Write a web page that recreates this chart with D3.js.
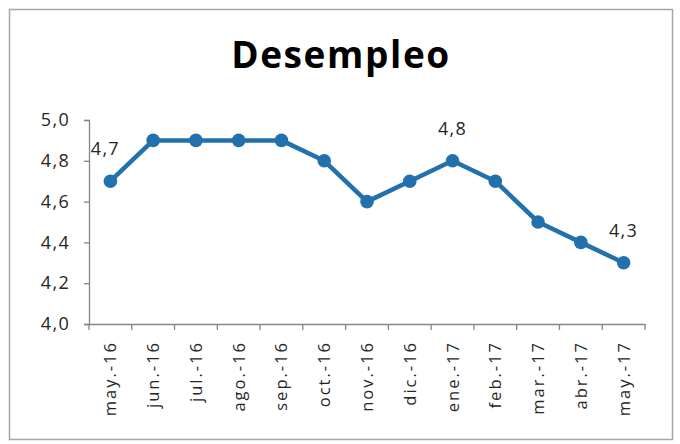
<!DOCTYPE html>
<html><head><meta charset="utf-8">
<script src="https://cdn.jsdelivr.net/npm/d3@7"></script>
<style>body{margin:0;background:#fff}svg{display:block}text{font-family:"Open Sans",sans-serif}</style>
</head><body><svg id="c" width="680" height="444"></svg>
<script>
const categories=["may.-16","jun.-16","jul.-16","ago.-16","sep.-16","oct.-16","nov.-16","dic.-16","ene.-17","feb.-17","mar.-17","abr.-17","may.-17"];
const values=[4.7,4.9,4.9,4.9,4.9,4.8,4.6,4.7,4.8,4.7,4.5,4.4,4.3];
const yTicks=[4.0,4.2,4.4,4.6,4.8,5.0];
const labeled=["may.-16","ene.-17","may.-17"];
const title="Desempleo";

const svg=d3.select("#c");
svg.append("rect").attr("x",9.5).attr("y",9.5).attr("width",663).attr("height",430).attr("fill","#fff").attr("stroke","#a6a6a6").attr("stroke-width",1.5);
svg.append("text").attr("x",341).attr("y",68).attr("text-anchor","middle").attr("font-size",37).attr("letter-spacing",1.6).attr("font-weight","bold").attr("fill","#000").text(title);

const x=d3.scaleBand().domain(categories).range([89,645]);
const y=d3.scaleLinear().domain([4,5]).range([324,120]);
const fmt=v=>d3.format(".1f")(v).replace(".",",");

const ya=svg.append("g").attr("transform","translate(89,0)").call(d3.axisLeft(y).tickValues(yTicks).tickFormat(fmt).tickSize(5).tickPadding(14));
const xa=svg.append("g").attr("transform","translate(0,324)").call(d3.axisBottom(x).tickSize(0).tickFormat(""));
[ya,xa].forEach(a=>{a.selectAll("path,line").attr("stroke","#868686").attr("stroke-width",1.3);a.selectAll("text").attr("font-size",18).attr("letter-spacing",1.3).attr("fill","#262626").attr("font-family","'Open Sans',sans-serif");});
const bounds=categories.map(c=>x(c)).concat([x(categories[categories.length-1])+x.bandwidth()]);
svg.append("g").selectAll("line").data(bounds).join("line").attr("x1",d=>d).attr("x2",d=>d).attr("y1",324).attr("y2",330).attr("stroke","#868686").attr("stroke-width",1.3);
svg.append("g").selectAll("text").data(categories).join("text")
 .attr("transform",d=>`translate(${x(d)+x.bandwidth()/2+6},341) rotate(-90)`)
 .attr("text-anchor","end").attr("font-size",16.5).attr("letter-spacing",2).attr("fill","#262626").text(d=>d);

const pts=categories.map((c,i)=>({c,v:values[i]}));
svg.append("path").datum(pts).attr("fill","none").attr("stroke","#2271ac").attr("stroke-width",4.5).attr("stroke-linejoin","round")
 .attr("d",d3.line().x(d=>x(d.c)+x.bandwidth()/2).y(d=>y(d.v)));
svg.append("g").selectAll("circle").data(pts).join("circle").attr("cx",d=>x(d.c)+x.bandwidth()/2).attr("cy",d=>y(d.v)).attr("r",6.8).attr("fill","#2271ac");
svg.append("g").selectAll("text").data(pts.filter(d=>labeled.includes(d.c))).join("text")
 .attr("x",(d,i)=>x(d.c)+x.bandwidth()/2-(i===0?5:0)).attr("y",d=>y(d.v)-26)
 .attr("text-anchor","middle").attr("font-size",18).attr("letter-spacing",1.3).attr("fill","#262626").text(d=>fmt(d.v));
</script></body></html>
